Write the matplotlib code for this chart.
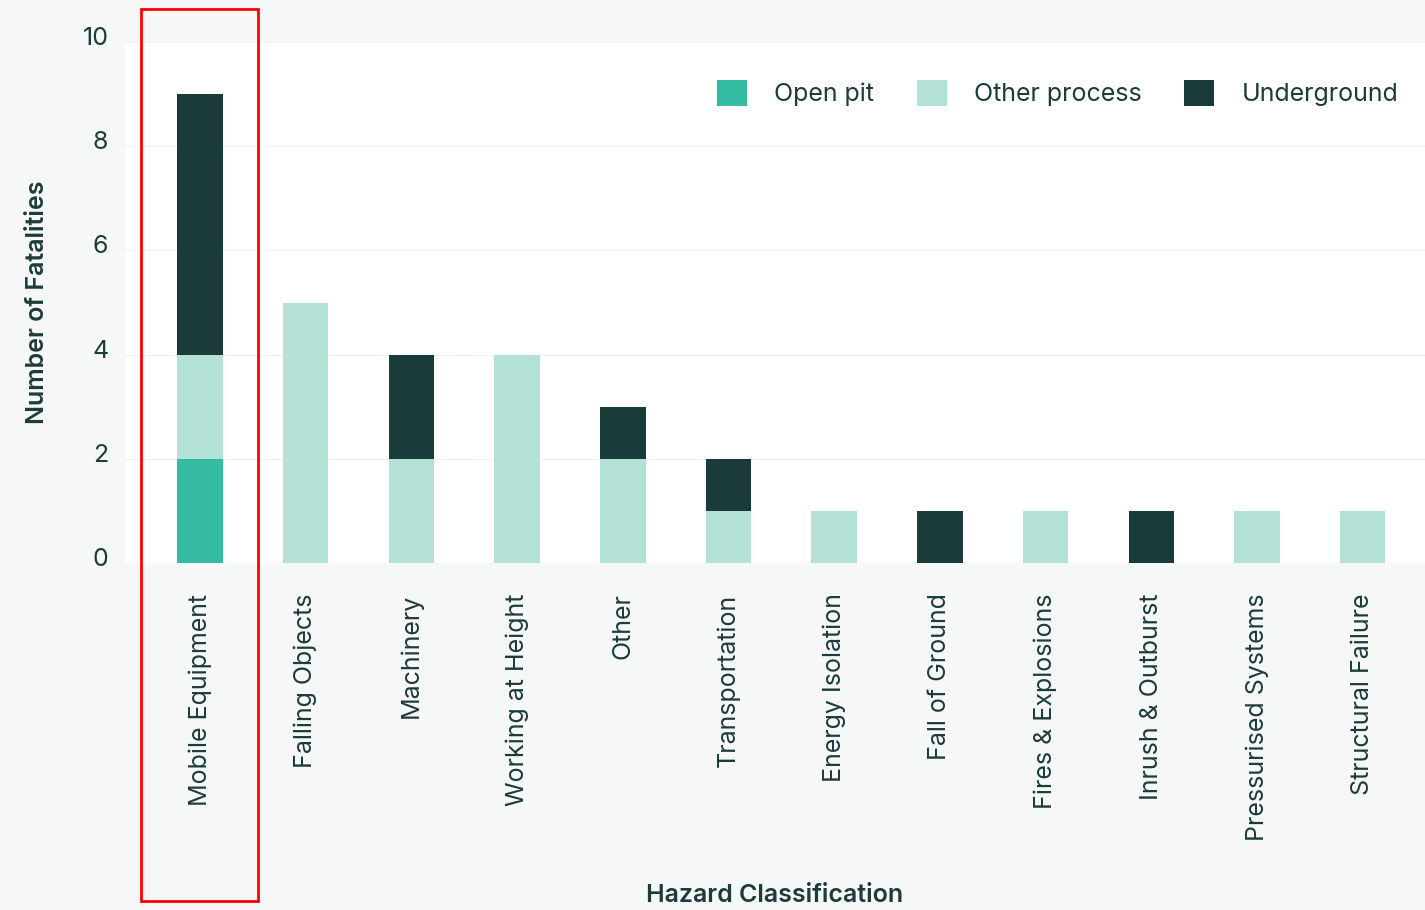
import matplotlib
matplotlib.use("Agg")
import matplotlib.pyplot as plt
import matplotlib.transforms as mtransforms
import numpy as np
from matplotlib.patches import Rectangle

categories = ["Mobile Equipment", "Falling Objects", "Machinery", "Working at Height",
              "Other", "Transportation", "Energy Isolation", "Fall of Ground",
              "Fires & Explosions", "Inrush & Outburst", "Pressurised Systems",
              "Structural Failure"]
open_pit = [2, 0, 0, 0, 0, 0, 0, 0, 0, 0, 0, 0]
other_process = [2, 5, 2, 4, 2, 1, 1, 0, 1, 0, 1, 1]
underground = [5, 0, 2, 0, 1, 1, 0, 1, 0, 1, 0, 0]
series_names = ["Open pit", "Other process", "Underground"]
colors = ["#34bba2", "#b4e1d6", "#1b3a3a"]
y_ticks = [0, 2, 4, 6, 8, 10]

text_color = "#1d3b3a"
plt.rcParams["font.family"] = ["Inter", "DejaVu Sans"]

fig = plt.figure(figsize=(14.25, 9.1), dpi=100, facecolor="#f6f8f8")
ax = fig.add_axes([125 / 1425, 1 - 563 / 910, 1300 / 1425, (563 - 42) / 910])
ax.set_facecolor("white")

x = np.arange(len(categories))
bottom = np.zeros(len(categories))
for name, vals, c in zip(series_names, [open_pit, other_process, underground], colors):
    ax.bar(x, vals, width=0.43, bottom=bottom, color=c, label=name, zorder=3)
    bottom += np.array(vals)

ax.set_xlim(-0.71, 11.59)
ax.set_ylim(0, 10)
ax.set_yticks(y_ticks)
ax.set_xticks(x)
ax.set_xticklabels(categories, rotation=90, fontsize=18, color=text_color)
ax.tick_params(axis="x", length=0, pad=22)
ax.tick_params(axis="y", length=0, pad=12, labelsize=18, labelcolor=text_color)
# y labels sit a little above their gridlines
shift = mtransforms.ScaledTranslation(0, 6 / 100, fig.dpi_scale_trans)
for lbl in ax.get_yticklabels():
    lbl.set_transform(lbl.get_transform() + shift)
ax.grid(axis="y", color="#f2f4f4", linewidth=1, zorder=0)
for s in ax.spines.values():
    s.set_visible(False)

ax.set_ylabel("Number of Fatalities", fontsize=18, fontweight="semibold",
              color=text_color, labelpad=24)
fig.text(775 / 1425, 1 - 896 / 910, "Hazard Classification", fontsize=18,
         fontweight="semibold", color=text_color, ha="center", va="center")

leg = ax.legend(loc="upper right", ncol=3, frameon=False, fontsize=18,
                handlelength=1.2, handleheight=1.2, handletextpad=1.1,
                columnspacing=1.7, bbox_to_anchor=(0.997, 0.97))
for t in leg.get_texts():
    t.set_color(text_color)

# highlight box around the first category
fig.patches.append(Rectangle((141 / 1425, 1 - 901 / 910), 117 / 1425, 892 / 910,
                             transform=fig.transFigure, fill=False,
                             edgecolor="#ff0000", linewidth=2, zorder=10))

fig.savefig("out.png", dpi=100, facecolor=fig.get_facecolor())
